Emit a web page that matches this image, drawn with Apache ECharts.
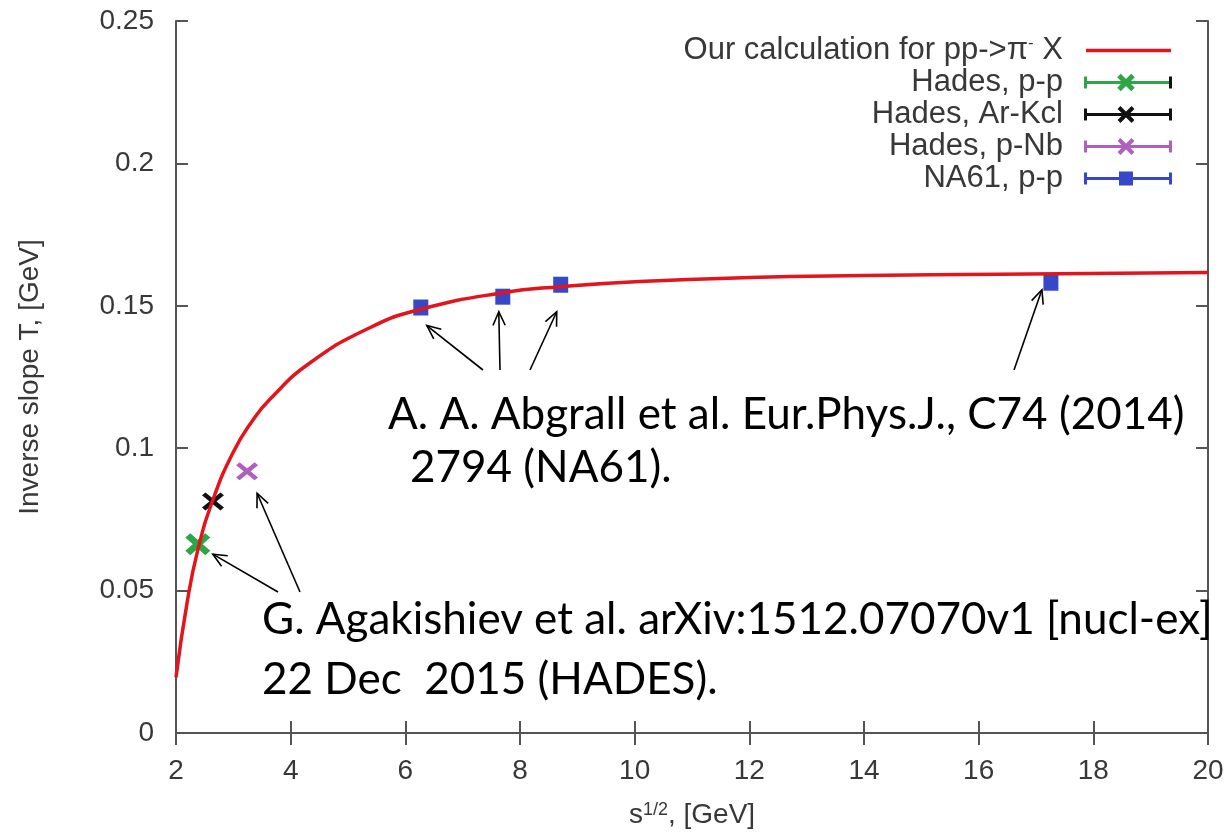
<!DOCTYPE html>
<html>
<head>
<meta charset="utf-8">
<script src="https://cdn.jsdelivr.net/npm/echarts@6/dist/echarts.min.js"></script>
<style>
  html, body { margin: 0; padding: 0; background: #fff; }
  #chart { width: 1227px; height: 834px; }
</style>
</head>
<body>
<div id="chart"></div>
<script>
// model curve
const curveX = [2.0, 2.192, 2.383, 2.645, 2.993, 3.324, 3.638, 4.334, 5.38, 6.268, 7.697, 8.707, 10.084, 12, 14, 16.355, 20];
const curveT = [0.0196, 0.0456, 0.0645, 0.0819, 0.0984, 0.1094, 0.1172, 0.1299, 0.1423, 0.1488, 0.1546, 0.1567, 0.1585, 0.1599, 0.1606, 0.1611, 0.1617];

// data points
const hadesPPX = [2.38], hadesPPT = [0.0663];
const hadesArX = [2.645], hadesArT = [0.0813];
const hadesNbX = [3.24], hadesNbT = [0.0919];
const na61X = [6.27, 7.70, 8.71, 17.26];
const na61T = [0.1494, 0.1532, 0.1574, 0.1581];

const xTicks = { min: 2, max: 20, step: 2 };
const yTicks = { min: 0, max: 0.25, step: 0.05 };

const NAMES = ['Our calculation for pp->π- X', 'Hades, p-p', 'Hades, Ar-Kcl', 'Hades, p-Nb', 'NA61, p-p'];

const zip = (xs, ys) => xs.map((x, i) => [x, ys[i]]);

const AXIS = '#555';
const TXT = '#383838';
const FONT = 'Liberation Sans';
const RED = '#e3141c', GREEN = '#2ea547', BLACK = '#111', PURPLE = '#b05fc0', BLUE = '#3647c8';

// X shaped marker, t = bar half-width in a 100 box
function xPath(t) {
  return 'path://M0,' + t + 'L' + t + ',0L100,' + (100 - t) + 'L' + (100 - t) + ',100Z' +
    'M' + (100 - t) + ',0L100,' + t + 'L' + t + ',100L0,' + (100 - t) + 'Z';
}

// legend samples in gnuplot style (error bar + point)
function svgIcon(inner) {
  const svg = '<svg xmlns="http://www.w3.org/2000/svg" width="104" height="20" viewBox="0 0 104 20">' + inner + '</svg>';
  return 'image://data:image/svg+xml;charset=utf-8,' + encodeURIComponent(svg);
}
function barIcon(c, capR, mark) {
  return svgIcon(
    '<path d="M17.5,10H102.5M17.5,4V16" stroke="' + c + '" stroke-width="3" fill="none"/>' +
    '<path d="M102.5,4V16" stroke="' + (capR || c) + '" stroke-width="3" fill="none"/>' + mark);
}
const xMark = (c, w) => '<path d="M51,3L65,17M65,3L51,17" stroke="' + c + '" stroke-width="' + w + '" fill="none"/>';

const icons = [
  svgIcon('<path d="M18,10H103" stroke="' + RED + '" stroke-width="3.5"/>'),
  barIcon(GREEN, BLACK, xMark(GREEN, 5)),
  barIcon(BLACK, null, xMark(BLACK, 4)),
  barIcon(PURPLE, null, xMark(PURPLE, 4)),
  barIcon(BLUE, null, '<rect x="51" y="3" width="14" height="14" fill="' + BLUE + '"/>')
];

const chart = echarts.init(document.getElementById('chart'));

const axisCommon = {
  axisLine: { show: true, lineStyle: { color: AXIS, width: 2 } },
  axisTick: { show: true, inside: true, length: 12, lineStyle: { color: AXIS, width: 2 } },
  splitLine: { show: false }
};

const option = {
  animation: false,
  backgroundColor: '#fff',
  grid: { left: 176, right: 19, top: 21, bottom: 100 },
  legend: {
    orient: 'vertical',
    align: 'right',
    right: 55,
    top: 35,
    padding: 0,
    itemWidth: 104,
    itemHeight: 20,
    itemGap: 1,
    selectedMode: false,
    data: NAMES.map((n, i) => ({ name: n, icon: icons[i] })),
    formatter: n => n === NAMES[0] ? 'Our calculation for pp->π{sup|-} X' : n,
    textStyle: {
      fontSize: 31, color: TXT, fontFamily: FONT,
      rich: { sup: { fontSize: 17, color: TXT, fontFamily: FONT, verticalAlign: 'top' } }
    }
  },
  xAxis: [
    Object.assign({
      type: 'value', position: 'bottom',
      min: xTicks.min, max: xTicks.max, interval: xTicks.step,
      axisLabel: { fontSize: 28, color: TXT, fontFamily: FONT, margin: 24 },
      name: 's{sup|1/2}, [GeV]',
      nameLocation: 'middle',
      nameGap: 68,
      nameTextStyle: {
        fontSize: 28, color: TXT, fontFamily: FONT,
        rich: { sup: { fontSize: 18, color: TXT, fontFamily: FONT, verticalAlign: 'top' } }
      }
    }, axisCommon),
    Object.assign({
      type: 'value', position: 'top',
      min: xTicks.min, max: xTicks.max, interval: xTicks.step,
      axisLabel: { show: false }
    }, axisCommon)
  ],
  yAxis: [
    Object.assign({
      type: 'value', position: 'left',
      min: yTicks.min, max: yTicks.max, interval: yTicks.step,
      axisLabel: { fontSize: 28, color: TXT, fontFamily: FONT, margin: 22 },
      name: 'Inverse slope T, [GeV]',
      nameLocation: 'middle',
      nameGap: 132,
      nameTextStyle: { fontSize: 28, color: TXT, fontFamily: FONT }
    }, axisCommon),
    Object.assign({
      type: 'value', position: 'right',
      min: yTicks.min, max: yTicks.max, interval: yTicks.step,
      axisLabel: { show: false }
    }, axisCommon)
  ],
  series: [
    {
      name: NAMES[0], type: 'line', smooth: 0.5,
      showSymbol: false, symbol: 'none',
      lineStyle: { color: RED, width: 3.5 },
      itemStyle: { color: RED },
      data: zip(curveX, curveT)
    },
    {
      name: NAMES[1], type: 'scatter', symbol: xPath(20), symbolSize: [25, 22],
      itemStyle: { color: GREEN, opacity: 1 }, data: zip(hadesPPX, hadesPPT)
    },
    {
      name: NAMES[2], type: 'scatter', symbol: xPath(16), symbolSize: [22, 18],
      itemStyle: { color: BLACK, opacity: 1 }, data: zip(hadesArX, hadesArT)
    },
    {
      name: NAMES[3], type: 'scatter', symbol: xPath(16), symbolSize: [22, 18],
      itemStyle: { color: PURPLE, opacity: 1 }, data: zip(hadesNbX, hadesNbT)
    },
    {
      name: NAMES[4], type: 'scatter', symbol: 'rect', symbolSize: [15, 16],
      itemStyle: { color: BLUE, opacity: 1 }, data: zip(na61X, na61T)
    }
  ]
};
chart.setOption(option);

// annotation texts
const notes = [
  { text: 'A. A. Abgrall et al. Eur.Phys.J., C74 (2014)', x: 388, y: 415 },
  { text: '2794 (NA61).', x: 410, y: 468 },
  { text: 'G. Agakishiev et al. arXiv:1512.07070v1 [nucl-ex]', x: 262, y: 620 },
  { text: '22 Dec  2015 (HADES).', x: 262, y: 680 }
];

// arrows: tail in pixels, head = target point + offset
const arrows = [
  { tail: [483, 370], to: [na61X[0], na61T[0]], off: [6, 18] },
  { tail: [500, 370], to: [na61X[1], na61T[1]], off: [-4, 15] },
  { tail: [530, 370], to: [na61X[2], na61T[2]], off: [-4, 27] },
  { tail: [1014, 370], to: [na61X[3], na61T[3]], off: [-9, 7] },
  { tail: [278, 592], to: [hadesPPX[0], hadesPPT[0]], off: [15, 10] },
  { tail: [300, 592], to: [hadesNbX[0], hadesNbT[0]], off: [10, 22] }
];

const graphic = [];
notes.forEach(n => graphic.push({
  type: 'text', x: n.x, y: n.y, z: 10,
  style: { text: n.text, font: '44px Lato', fill: '#000', verticalAlign: 'middle' }
}));
arrows.forEach(a => {
  const p = chart.convertToPixel({ gridIndex: 0 }, a.to);
  const hx = p[0] + a.off[0], hy = p[1] + a.off[1];
  const ang = Math.atan2(a.tail[1] - hy, a.tail[0] - hx);
  const L = 15, w = 0.42;
  graphic.push({
    type: 'line', z: 10,
    shape: { x1: a.tail[0], y1: a.tail[1], x2: hx, y2: hy },
    style: { stroke: '#000', lineWidth: 1.6 }
  });
  graphic.push({
    type: 'polyline', z: 10,
    shape: { points: [
      [hx + L * Math.cos(ang - w), hy + L * Math.sin(ang - w)],
      [hx, hy],
      [hx + L * Math.cos(ang + w), hy + L * Math.sin(ang + w)]
    ] },
    style: { stroke: '#000', lineWidth: 1.6, fill: null }
  });
});
chart.setOption({ graphic: graphic });
</script>
</body>
</html>
